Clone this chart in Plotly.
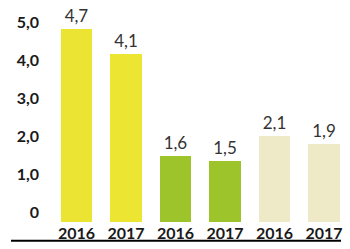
import plotly.graph_objects as go

categories = ["2016", "2017", "2016", "2017", "2016", "2017"]
values = [4.7, 4.1, 1.6, 1.5, 2.1, 1.9]
colors = ["#ebe433", "#ece532", "#9dc42a", "#9dc42a", "#eeeac7", "#eeeac7"]
tick_values = [0, 1, 2, 3, 4, 5]
tick_labels = ["0", "1,0", "2,0", "3,0", "4,0", "5,0"]

positions = list(range(len(categories)))
value_text = [f"{v:.1f}".replace(".", ",") for v in values]

fig = go.Figure()
fig.add_trace(go.Bar(
    x=positions, y=values, width=0.63,
    marker=dict(color=colors, line=dict(width=0)),
    text=value_text, textposition="outside", cliponaxis=False,
    textfont=dict(family="Lato", size=17, color="#333333"),
    yaxis="y", showlegend=False, hoverinfo="skip",
))
fig.add_trace(go.Scatter(x=[None], y=[None], yaxis="y2", showlegend=False))

fig.update_layout(
    width=350, height=249,
    margin=dict(l=40, r=0, t=0, b=27),
    paper_bgcolor="white", plot_bgcolor="white",
    xaxis=dict(range=[-0.737, 5.525], tickvals=positions, ticktext=categories,
               showgrid=False, zeroline=False, showline=False, ticks="",
               tickfont=dict(family="Lato", size=16, color="#1a1a1a", weight="bold")),
    yaxis=dict(range=[0, 5.415], visible=False, showgrid=False, zeroline=False),
    yaxis2=dict(range=[-0.25, 5.598], overlaying="y", side="left", anchor="x",
                tickvals=tick_values, ticktext=tick_labels, showgrid=False,
                zeroline=False, showline=False, ticks="",
                tickfont=dict(family="Lato", size=16, color="#1a1a1a", weight="bold")),
    shapes=[dict(type="line", xref="paper", yref="paper",
                 x0=-0.0935, x1=0.971, y0=-0.085, y1=-0.085,
                 line=dict(color="black", width=2))],
    bargap=0,
)

fig.write_html("out.html", config={"displayModeBar": False},
               post_script="document.body.style.margin='0';document.body.style.overflow='hidden';")
